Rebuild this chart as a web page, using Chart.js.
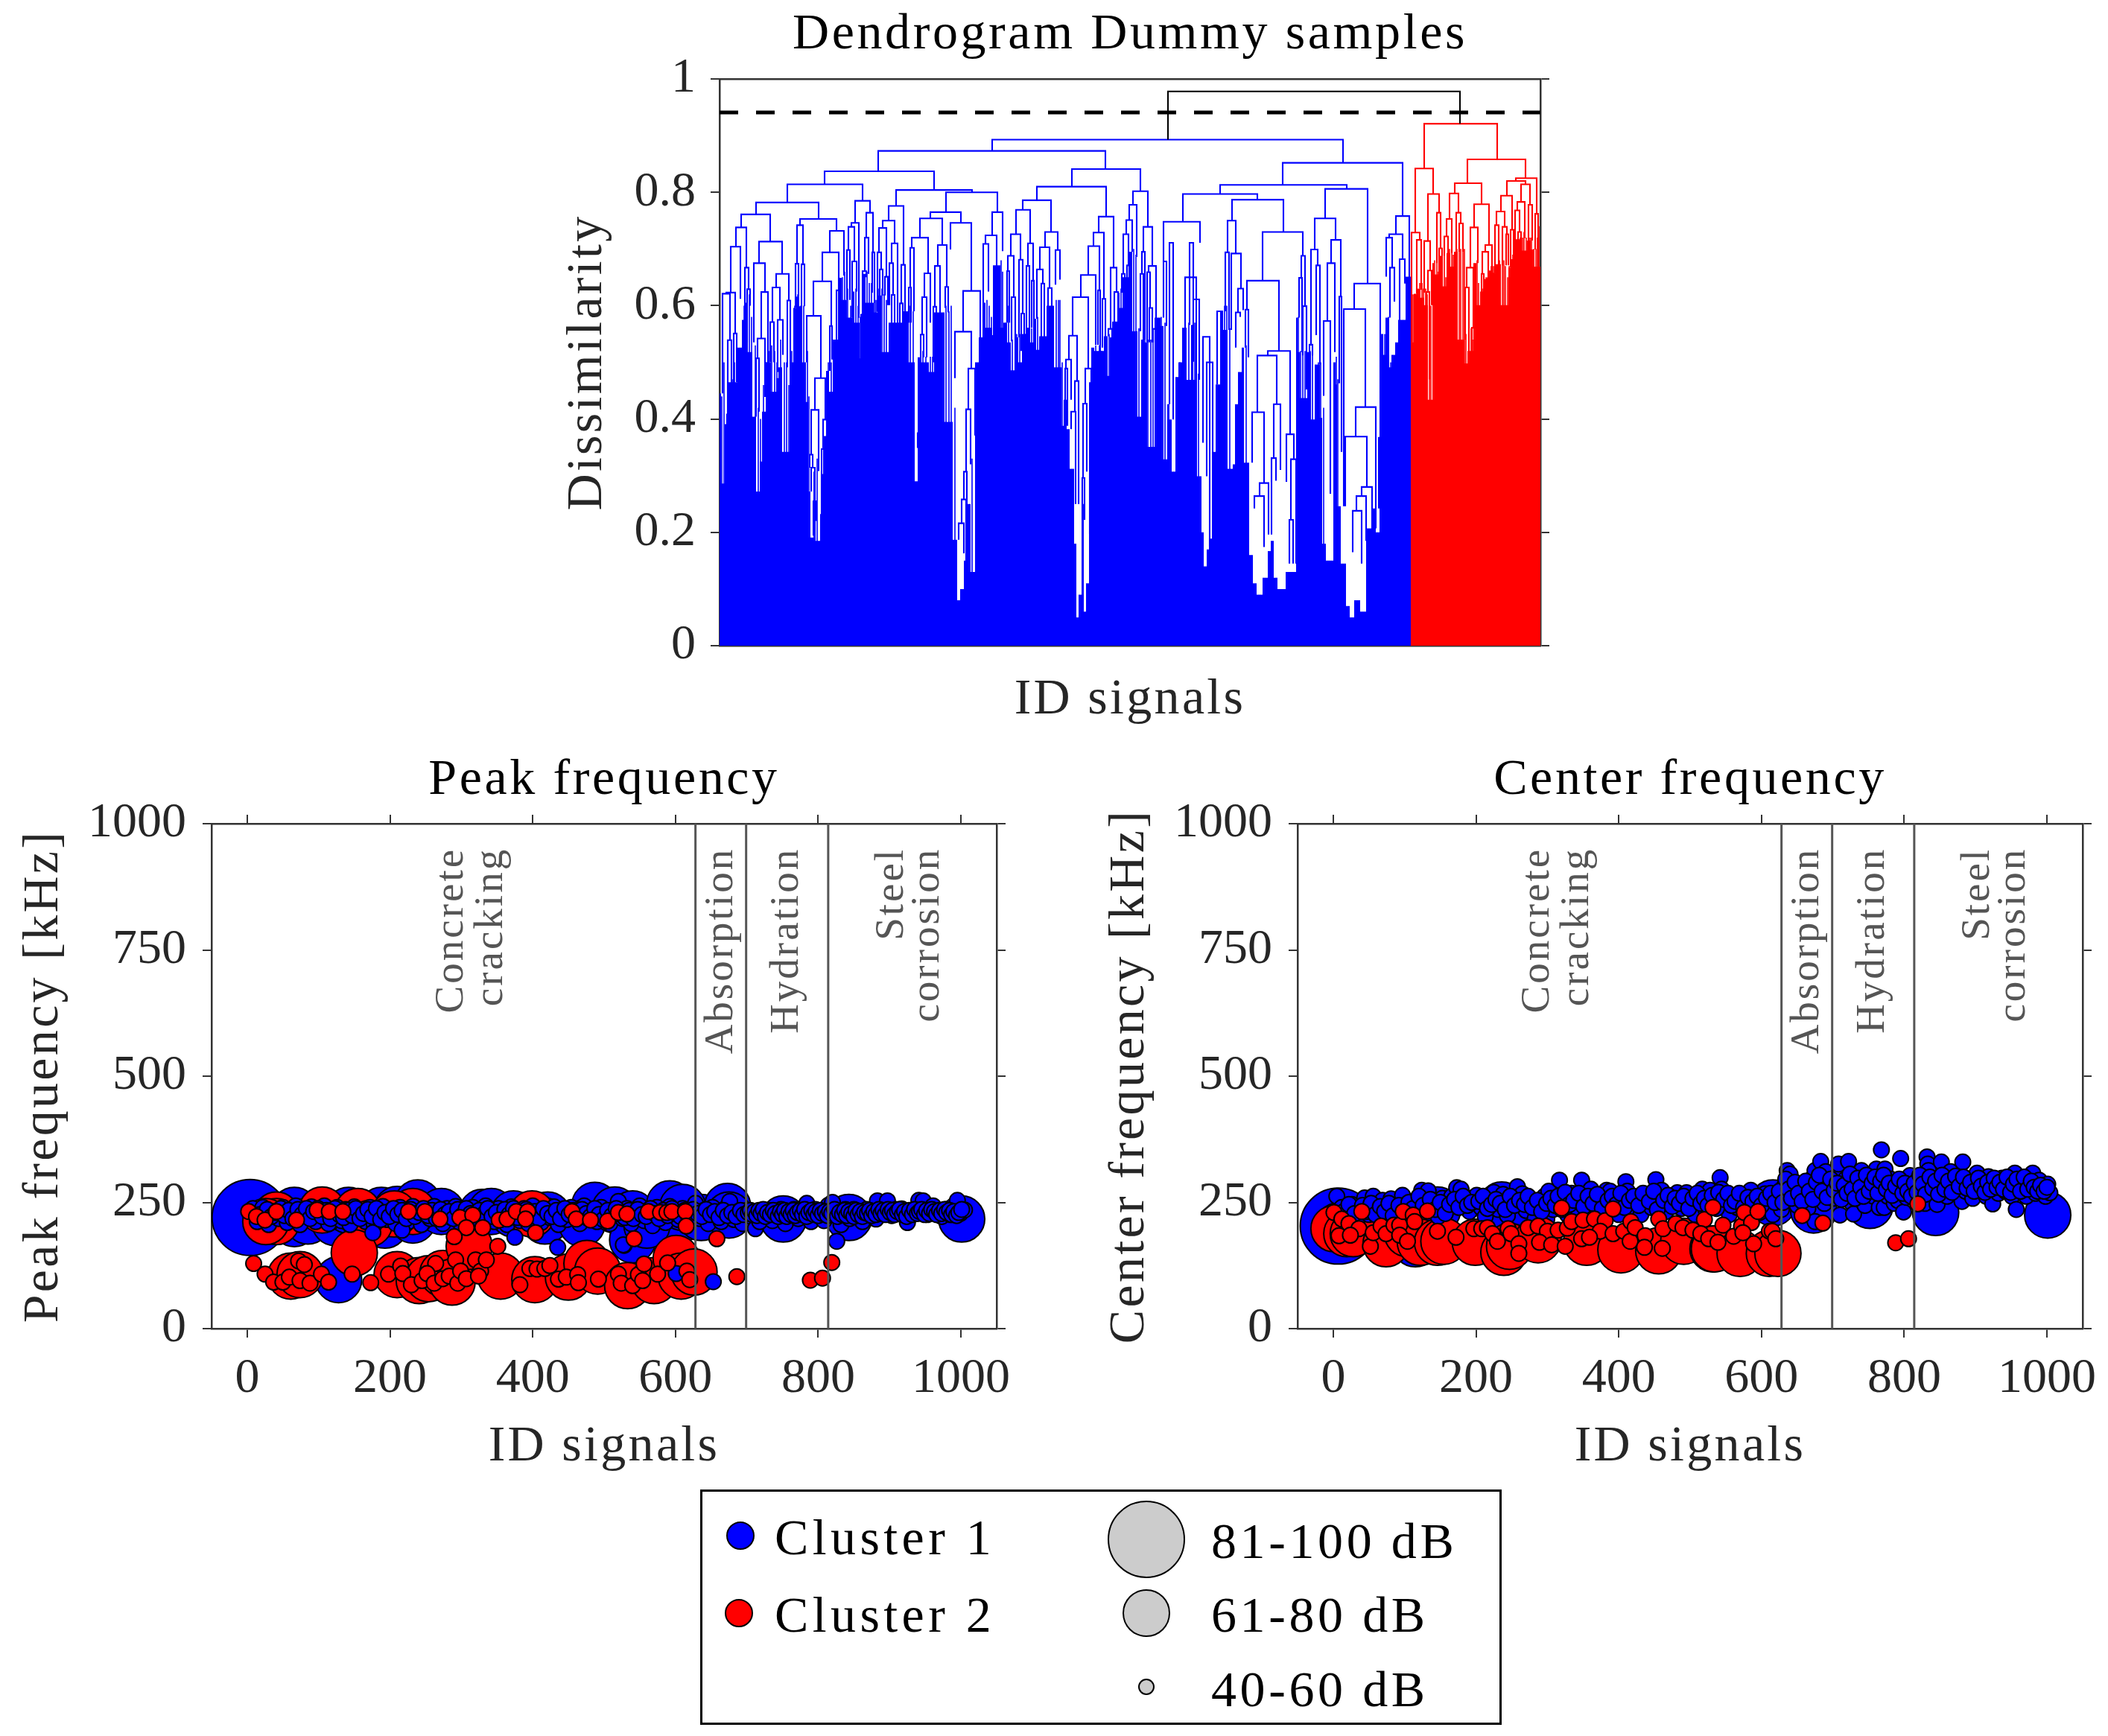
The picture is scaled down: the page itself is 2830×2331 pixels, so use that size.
<!DOCTYPE html>
<html>
<head>
<meta charset="utf-8">
<title>Dendrogram and frequency plots</title>
<script src="https://cdn.jsdelivr.net/npm/chart.js@4"></script>
<style>
  html, body { margin: 0; background: #fff; }
  body { position: relative; width: 2830px; height: 2331px; overflow: hidden; font-family: 'Liberation Serif', serif; }
  canvas { position: absolute; }
  #legend { position: absolute; left: 940px; top: 2000px; width: 1070px; height: 310px; border: 3px solid #000; background: #fff; }
  .lg-text { position: absolute; font-size: 68px; line-height: 68px; letter-spacing: 4.6px; color: #000; white-space: nowrap; }
  .lg-dot { position: absolute; border-radius: 50%; border: 2px solid #000; box-sizing: border-box; }
</style>
</head>
<body>
<canvas id="dendro" width="1408" height="1000" style="left:700px;top:0"></canvas>
<canvas id="peak" width="1418" height="1000" style="left:0;top:1000px"></canvas>
<canvas id="center" width="1418" height="1000" style="left:1458px;top:1000px"></canvas>
<div id="legend"></div>
<script>
// ---- dendrogram values: leaf position, dissimilarity ----
const dissimilarityTicks = [0, 0.2, 0.4, 0.6, 0.8, 1];
const cutoffLevel = [0.941];
const leafRange = [0, 1102];

// [leftLeaf, rightLeaf, mergeHeight, leftChildHeight, rightChildHeight]
const rootLink = [[602, 994, 0.978, 0.893, 0.921]];

const blueLinks = [
  [366,837,.893,.873,.852],[213,518,.873,.837,.841],[756,917,.852,.813,.758],[141,288,.837,.814,.804],
  [473,565,.841,.810,.802],[91,192,.814,.782,.785],[237,339,.804,.776,.800],[426,519,.810,.786,.757],
  [555,575,.802,.778,.739],[672,842,.813,.797,.806],[622,722,.797,.748,.787],[688,757,.787,.750,.730],
  [304,373,.800,.765,.765],[813,870,.806,.754,.639],[908,926,.758,.726,.650],
  [49,133,.782,.761,.753],[29,68,.761,.738,.713],[108,157,.753,.742,.732],[22,36,.738,.704,.667],
  [53,84,.713,.675,.656],[15,28,.704,.623,.612],[34,39,.667,.575,.629],[37,41,.629,.535,.600],
  [46,61,.675,.535,.624],[56,65,.624,.542,.439],[51,61,.542,.507,.439],[49,53,.507,.404,.413],
  [76,93,.656,.632,.609],[71,81,.632,.571,.575],[68,73,.571,.500,.500],[78,85,.575,.483,.513],
  [91,95,.609,.491,.496],[9,21,.623,.621,.551],[4,14,.621,.445,.539],[11,16,.539,.408,.450],
  [19,23,.551,.391,.465],[10,12,.408,.286,.286],[104,112,.742,.674,.673],[102,106,.674,.596,.616],
  [110,114,.673,.575,.599],[148,167,.732,.694,.653],[138,160,.694,.643,.627],[126,150,.643,.582,.564],
  [117,136,.582,.500,.472],[128,142,.472,.416,.399],[123,133,.416,.337,.308],[121,125,.337,.314,.314],
  [123,128,.314,.272,.255],[126,130,.255,.194,.220],[139,144,.399,.347,.303],[137,142,.347,.231,.303],
  [136,139,.231,.141,.187],[157,162,.627,.533,.448],[155,158,.533,.448,.452],[148,151,.564,.485,.505],
  [182,202,.785,.746,.764],[177,187,.746,.740,.579],[173,181,.739,.698,.678],[171,175,.698,.610,.610],
  [178,184,.678,.579,.625],[197,206,.764,.720,.694],[195,200,.720,.661,.656],[192,197,.661,.584,.650],
  [190,194,.584,.472,.507],[205,208,.694,.623,.605],[227,247,.776,.750,.672],[219,235,.750,.737,.710],
  [214,224,.737,.694,.651],[212,217,.694,.589,.664],[215,219,.664,.590,.618],[222,226,.651,.618,.601],
  [231,239,.710,.675,.564],[228,233,.675,.601,.619],[231,235,.619,.491,.518],[237,241,.564,.491,.491],
  [244,249,.672,.604,.570],[242,246,.604,.518,.518],[283,324,.765,.754,.746],[269,299,.754,.720,.707],
  [258,280,.720,.702,.657],[256,261,.702,.632,.590],[254,257,.632,.570,.570],[275,283,.657,.615,.570],
  [272,278,.615,.549,.509],[270,274,.549,.485,.509],[268,271,.485,.375,.434],[266,269,.375,.349,.349],
  [293,305,.707,.670,.633],[289,296,.670,.598,.568],[287,291,.598,.500,.570],[303,307,.633,.596,.588],
  [310,338,.746,.699,.626],[327,350,.626,.554,.500],[316,338,.554,.472,.489],[334,343,.489,.417,.371],
  [331,337,.417,.307,.320],[328,332,.307,.258,.185],[325,331,.258,.216,.141],[321,328,.216,.187,.163],
  [357,372,.724,.709,.649],[354,361,.709,.570,.625],[366,380,.765,.724,.696],
  [407,445,.786,.769,.730],[398,417,.769,.726,.710],[391,404,.726,.688,.681],[387,395,.688,.661,.615],
  [386,389,.661,.570,.570],[392,397,.615,.537,.485],[402,407,.681,.544,.586],[405,409,.586,.520,.498],
  [414,421,.710,.670,.644],[412,416,.670,.548,.550],[419,422,.644,.561,.535],[437,454,.730,.703,.698],
  [430,443,.703,.664,.631],[426,434,.664,.577,.639],[432,436,.639,.524,.524],[441,446,.631,.548,.548],
  [451,457,.698,.637,.646],[509,529,.757,.729,.667],[502,516,.729,.705,.612],[495,510,.705,.654,.627],
  [485,505,.654,.615,.531],[474,495,.615,.547,.489],[469,480,.547,.505,.467],[465,472,.505,.489,.434],
  [464,467,.489,.388,.388],[477,482,.467,.413,.250],[472,478,.413,.382,.250],[491,499,.489,.427,.303],
  [488,493,.427,.296,.307],[487,490,.296,.222,.222],[497,501,.303,.197,.197],[508,511,.627,.531,.518],
  [514,518,.612,.526,.520],[525,533,.667,.559,.624],[522,527,.559,.546,.476],[530,535,.624,.544,.572],
  [550,560,.778,.751,.686],[546,554,.751,.726,.695],[542,549,.726,.656,.671],[540,544,.656,.623,.596],
  [547,550,.671,.596,.600],[569,581,.739,.695,.670],[567,571,.695,.656,.540],[565,569,.656,.555,.531],
  [576,586,.670,.659,.559],[574,578,.659,.535,.596],[577,581,.596,.535,.535],[582,588,.559,.535,.473],
  [586,590,.473,.351,.351],[596,645,.748,.678,.711],[682,693,.750,.694,.692],[679,684,.694,.590,.557],
  [687,700,.692,.557,.630],[696,703,.630,.588,.592],[693,699,.588,.526,.580],[706,710,.593,.526,.509],
  [708,751,.644,.593,.520],[729,783,.730,.644,.688],[736,766,.520,.512,.373],[722,748,.512,.412,.426],
  [715,731,.412,.323,.287],[725,737,.287,.264,.196],[718,731,.264,.242,.174],[744,753,.426,.331,.310],
  [741,747,.331,.196,.291],[761,771,.373,.289,.329],[767,774,.329,.222,.145],[765,770,.222,.145,.145],
  [781,786,.688,.649,.599],[778,782,.649,.579,.518],[783,788,.599,.512,.452],[799,827,.754,.699,.716],
  [794,803,.699,.531,.671],[801,806,.671,.548,.496],[792,796,.531,.437,.512],[821,834,.716,.675,.616],
  [816,826,.675,.573,.518],[811,820,.573,.441,.268],[832,835,.616,.463,.342],[852,887,.639,.594,.367],
  [838,867,.594,.246,.421],[854,881,.421,.369,.207],[840,869,.369,.246,.280],[862,876,.280,.264,.190],
  [855,868,.264,.238,.185],[850,862,.238,.165,.145],[885,889,.367,.242,.207],[895,903,.720,.651,.667],
  [899,917,.726,.720,.682],[900,906,.667,.579,.607],[913,920,.682,.561,.639],
  [596,600,.678,.579,.564],[604,609,.711,.426,.399],[631,636,.711,.566,.501],[625,640,.650,.500,.469],
  [636,644,.611,.566,.469],[654,662,.500,.299,.174],[649,658,.545,.358,.174],[668,675,.590,.461,.358]
];

const redLinks = [
  [946,1044,.921,.842,.858],[934,958,.842,.729,.798],[1004,1082,.858,.816,.825],[987,1023,.816,.799,.779],
  [1069,1097,.825,.820,.762],[1057,1082,.820,.794,.814],[951,966,.797,.715,.764],[929,940,.729,.535,.716],
  [936,942,.716,.621,.628],[934,937,.552,.380,.480],[946,954,.714,.623,.662],[949,953,.624,.526,.470],
  [951,956,.662,.624,.601],[963,968,.764,.675,.701],[966,970,.701,.575,.688],[980,992,.798,.753,.764],
  [976,983,.753,.722,.693],[973,978,.722,.688,.634],[989,995,.764,.695,.745],[993,998,.745,.695,.695],
  [1013,1033,.779,.738,.707],[1008,1018,.738,.667,.675],[1003,1012,.667,.632,.561],[1001,1006,.632,.540,.500],
  [1010,1013,.561,.498,.498],[1028,1037,.707,.695,.653],[1024,1032,.695,.656,.647],[1023,1026,.656,.601,.601],
  [1030,1033,.647,.625,.600],[1049,1064,.794,.766,.734],[1043,1054,.766,.742,.739],[1041,1046,.742,.658,.658],
  [1051,1057,.739,.671,.726],[1056,1059,.726,.671,.671],[1062,1066,.734,.667,.682],[1071,1081,.783,.768,.719],
  [1068,1074,.768,.675,.730],[1072,1076,.730,.680,.680],[1076,1088,.814,.783,.778],[1086,1091,.778,.697,.715],
  [1095,1099,.762,.699,.669]
];

// top of the solid part of the tree: [leaf, height], read left to right
const blueSolidTop = [
  [0,.229],[2,.445],[7,.286],[12,.391],[24,.465],[30,.526],[34,.575],[38,.605],[44,.518],[49,.404],[54,.272],
  [57,.325],[62,.413],[69,.500],[76,.448],[79,.472],[84,.491],[94,.342],[99,.500],[103,.596],[107,.616],[111,.599],
  [116,.500],[119,.430],[122,.272],[126,.191],[129,.307],[136,.185],[139,.303],[143,.370],[147,.485],[152,.448],
  [159,.540],[164,.649],[171,.610],[178,.579],[181,.625],[188,.570],[191,.507],[196,.656],[207,.605],[212,.588],
  [217,.618],[227,.518],[247,.570],[254,.590],[262,.500],[266,.290],[269,.509],[281,.500],[288,.483],[302,.588],[313,.395],
  [319,.187],[323,.080],[328,.100],[332,.150],[337,.250],[343,.130],[348,.500],[353,.544],[357,.605],[366,.561],
  [367,.548],[377,.671],[381,.561],[386,.570],[391,.535],[396,.486],[401,.544],[406,.500],[412,.550],[417,.561],
  [421,.535],[425,.577],[429,.522],[439,.546],[449,.600],[459,.491],[462,.388],[466,.434],[470,.382],[476,.312],
  [479,.180],[482,.050],[486,.090],[489,.250],[492,.060],[496,.110],[499,.465],[503,.526],[516,.520],[521,.546],
  [524,.476],[527,.544],[534,.572],[537,.623],[541,.596],[549,.650],[554,.695],[561,.555],[566,.404],[569,.540],
  [574,.535],[584,.351],[592,.579],[596,.564],[601,.329],[604,.426],[607,.399],[612,.307],[616,.474],[621,.500],
  [627,.561],[633,.469],[636,.566],[641,.469],[647,.299],[650,.200],[654,.140],[657,.170],[662,.189],[666,.342],
  [672,.461],[676,.590],[682,.557],[689,.312],[692,.320],[696,.426],[701,.483],[704,.526],[711,.323],[716,.160],
  [721,.110],[729,.090],[736,.120],[740,.167],[744,.185],[749,.120],[760,.100],[774,.130],[776,.579],[779,.518],
  [789,.437],[794,.518],[799,.399],[806,.496],[809,.402],[814,.180],[824,.150],[827,.500],[829,.461],[834,.246],
  [841,.145],[846,.070],[852,.050],[860,.080],[868,.060],[877,.207],[881,.242],[886,.200],[891,.550],[894,.513],
  [899,.579],[902,.491],[907,.513],[911,.535],[921,.575],[924,.651],[928,.651]
];

const redSolidTop = [
  [928,.638],[932,.535],[936,.621],[941,.629],[946,.614],[951,.601],[957,.434],[959,.675],[966,.655],[971,.688],
  [976,.634],[981,.693],[986,.669],[991,.695],[1000,.540],[1004,.498],[1012,.520],[1016,.675],[1021,.601],[1027,.625],
  [1032,.647],[1037,.662],[1042,.658],[1049,.673],[1059,.601],[1062,.667],[1067,.682],[1077,.717],[1084,.697],
  [1089,.715],[1094,.699],[1097,.669],[1102,.669]
];

// the thin uprights above the solid part: [leaf, height]
const blueStems = [
  [3,.44],[6,.50],[13,.44],[17,.47],[20,.50],[26,.52],[31,.56],[33,.60],[40,.62],[43,.58],[48,.53],[52,.42],[55,.40],
  [59,.46],[63,.50],[66,.52],[70,.53],[74,.52],[77,.50],[82,.54],[87,.50],[90,.50],[93,.46],[97,.52],[101,.60],[105,.62],
  [109,.60],[113,.60],[118,.52],[120,.44],[131,.33],[146,.50],[150,.50],[153,.49],[156,.51],[161,.55],[165,.65],[168,.66],
  [172,.63],[176,.60],[179,.60],[183,.63],[186,.60],[189,.58],[193,.55],[198,.66],[201,.64],[204,.64],[208,.62],[210,.61],
  [214,.63],[218,.63],[221,.62],[224,.61],[229,.55],[233,.53],[236,.52],[240,.53],[244,.55],[249,.58],[252,.57],[256,.60],
  [260,.59],[273,.52],[277,.51],[283,.51],[286,.51],[291,.50],[295,.50],[299,.52],[304,.60],[308,.59],[311,.60],[316,.42],
  [339,.33],[350,.51],[355,.55],[359,.61],[362,.60],[365,.58],[370,.56],[374,.56],[378,.68],[380,.66],[384,.57],[388,.60],
  [393,.54],[399,.55],[403,.55],[408,.52],[411,.55],[415,.56],[419,.56],[423,.56],[427,.58],[431,.53],[435,.53],[441,.55],
  [444,.55],[448,.55],[452,.61],[455,.61],[457,.61],[460,.50],[505,.53],[510,.53],[513,.52],[518,.53],[523,.55],[530,.57],
  [535,.58],[539,.63],[543,.60],[547,.62],[551,.66],[553,.68],[556,.70],[559,.69],[563,.56],[568,.54],[571,.55],[575,.54],
  [579,.54],[582,.54],[593,.58],[598,.57],[618,.50],[623,.51],[626,.52],[630,.57],[634,.50],[638,.57],[643,.48],[675,.47],
  [678,.60],[681,.60],[685,.56],[703,.49],[707,.53],[777,.58],[780,.52],[783,.52],[786,.52],[790,.47],[793,.52],[796,.52],
  [800,.42],[804,.50],[807,.50],[811,.42],[828,.51],[830,.47],[893,.55],[896,.52],[898,.58],[901,.50],[904,.50],[908,.52],
  [912,.54],[915,.54],[918,.55],[922,.58],[926,.66]
];
const redStems = [
  [929,.66],[931,.62],[933,.56],[935,.55],[938,.63],[940,.64],[943,.64],[945,.63],[948,.63],[950,.62],[953,.62],[955,.60],
  [958,.50],[960,.68],[963,.68],[965,.66],[968,.68],[970,.69],[973,.69],[975,.65],[978,.65],[980,.70],[983,.70],[985,.69],
  [988,.68],[990,.70],[993,.70],[995,.70],[998,.70],[1000,.70],[1002,.55],[1006,.52],[1009,.56],[1011,.54],[1014,.60],
  [1017,.68],[1019,.64],[1022,.62],[1025,.63],[1029,.65],[1031,.65],[1034,.66],[1036,.67],[1039,.67],[1041,.66],[1044,.67],
  [1047,.68],[1051,.68],[1053,.68],[1055,.67],[1058,.65],[1060,.67],[1063,.68],[1065,.69],[1069,.69],[1072,.70],[1075,.72],
  [1078,.72],[1080,.73],[1083,.72],[1085,.71],[1088,.72],[1090,.72],[1093,.70],[1096,.70],[1098,.72],[1100,.74]
];

// ---- shared values of the two frequency plots ----
const signalTicks = [0, 200, 400, 600, 800, 1000];
const frequencyTicks = [0, 250, 500, 750, 1000];
const signalRange = [-50, 1050];
const stageLimits = [628, 699, 814];
const stageLabels = ['Concrete', 'cracking', 'Absorption', 'Hydration', 'Steel', 'corrosion'];
const stageLabelSignal = [302, 357, 680, 771, 918, 969];
const stageLabelTop = 953;

// ---- peak frequency: [ID signal, kHz] ----
const peakBlueLoud = [[4,220]];
const peakBlueMedium = [
  [66,234],[66,208],[85,213],[123,210],[128,97],[142,234],[188,234],[210,236],[193,205],[239,249],[232,215],[272,232],
  [329,230],[342,232],[373,227],[421,225],[417,213],[487,244],[469,208],[515,235],[540,227],[540,176],[592,247],
  [608,217],[636,220],[673,242],[751,217],[843,220],[1001,217],[560,205],[610,240],[675,225]
];
const peakRedMedium = [
  [41,225],[41,212],[26,212],[105,235],[155,232],[232,232],[206,227],[171,208],[399,227],[150,150],[61,104],[74,107],
  [210,107],[241,95],[254,99],[274,109],[287,92],[311,163],[355,104],[403,97],[450,102],[476,129],[491,114],[533,85],
  [570,95],[601,139],[608,104],[626,112]
];
const peakBlueQuiet = [
  [8,238],[14,212],[22,240],[30,206],[36,232],[44,218],[50,240],[56,210],[62,228],[68,243],[74,206],[80,234],[86,222],
  [90,241],[96,212],[102,230],[108,243],[114,208],[120,226],[126,240],[132,214],[138,236],[144,206],[150,241],[155,222],
  [160,232],[166,212],[172,240],[178,206],[184,226],[190,242],[196,216],[202,234],[208,208],[214,240],[220,222],
  [226,212],[232,242],[238,228],[244,206],[250,236],[256,218],[262,242],[268,226],[274,208],[280,238],[286,220],
  [292,242],[298,210],[304,230],[310,214],[316,240],[322,224],[328,206],[334,243],[340,232],[346,212],[352,238],
  [358,222],[364,206],[370,241],[376,228],[382,214],[388,238],[394,208],[400,243],[406,224],[412,210],[418,236],
  [424,220],[430,241],[436,206],[442,232],[448,216],[454,240],[460,226],[466,208],[472,243],[478,218],[484,234],
  [490,212],[496,240],[502,226],[508,208],[514,236],[520,252],[526,218],[532,238],[538,208],[544,228],[550,243],
  [556,214],[562,234],[568,204],[574,240],[580,222],[586,210],[592,242],[598,230],[604,216],[610,238],[616,206],
  [622,226],[628,248],[634,218],[640,234],[646,208],[652,240],[658,224],[664,212],[670,238],[676,252],[682,216],
  [688,232],[694,208],[700,234],[706,222],[712,198],[718,212],[724,230],[730,234],[736,214],[742,224],[748,236],
  [754,208],[760,228],[766,236],[772,218],[778,232],[784,248],[790,212],[796,236],[802,222],[808,214],[814,244],
  [820,250],[826,226],[832,206],[838,236],[844,218],[850,236],[856,228],[862,212],[868,236],[874,224],[881,217],
  [883,253],[889,232],[897,253],[903,224],[909,236],[917,237],[925,210],[931,228],[941,254],[947,253],[953,226],
  [961,243],[967,232],[973,222],[979,236],[985,226],[991,236],[995,254],[999,228],[1005,235],
  [176,190],[217,195],[375,181],[435,161],[528,165],[601,109],[653,93],[826,173],[527,166]
];
// the tight middle of the band, where the outlines run together
const peakBlueBand = [
  [18,226],[24,218],[28,236],[34,222],[40,230],[47,238],[52,224],[58,234],[64,218],[71,236],[77,226],[83,238],[88,218],
  [93,232],[99,238],[105,222],[111,234],[117,218],[123,238],[129,226],[135,220],[141,234],[147,224],[152,238],[158,218],
  [163,228],[169,236],[175,222],[181,238],[187,216],[193,230],[199,222],[205,238],[211,226],[217,234],[223,218],[229,236],
  [235,222],[241,230],[247,238],[253,224],[259,234],[265,218],[271,236],[277,226],[283,232],[289,218],[295,236],[301,224],
  [307,238],[313,228],[319,220],[325,234],[331,226],[337,238],[343,222],[349,230],[355,216],[361,236],[367,226],[373,238],
  [379,220],[385,230],[391,236],[397,224],[403,232],[409,218],[415,238],[421,228],[427,222],[433,234],[439,218],[445,238],
  [451,226],[457,234],[463,220],[469,236],[475,228],[481,222],[487,238],[493,226],[499,216],[505,234],[511,224],[517,238],
  [523,228],[529,220],[535,234],[541,218],[547,236],[553,226],[559,222],[565,238],[571,228],[577,218],[583,234],[589,224],
  [595,238],[601,228],[607,222],[613,234],[619,218],[625,236],[631,228],[637,222],[643,236],[649,226],[655,232],[661,220],
  [667,234],[673,224],[679,230],[685,222],[691,234],[696,226],[702,230],[705,234],[708,226],[711,232],[714,224],[717,234],
  [720,228],[723,236],[726,222],[729,230],[733,226],[737,234],[740,228],[744,222],[747,232],[750,226],[753,234],[756,222],
  [759,232],[762,226],[765,234],[768,224],[771,230],[775,234],[778,226],[781,236],[784,222],[787,230],[791,234],[794,226],
  [797,232],[800,224],[803,234],[806,228],[810,232],[813,224],[816,232],[819,228],[823,236],[827,222],[830,230],[834,226],
  [837,234],[840,224],[843,232],[847,228],[850,222],[853,234],[856,226],[859,232],[862,222],[865,230],[869,228],[872,234],
  [875,224],[878,232],[881,226],[885,236],[888,228],[891,234],[894,226],[898,236],[901,230],[904,234],[907,226],[911,232],
  [914,236],[918,226],[921,232],[924,222],[928,234],[932,226],[935,236],[939,228],[942,232],[945,236],[949,226],[952,234],
  [956,228],[959,236],[963,232],[966,226],[970,234],[973,228],[977,236],[980,230],[984,234],[987,226],[990,232],[994,224],
  [997,230],[1001,236]
];
const peakRedQuiet = [
  [2,232],[13,222],[25,215],[41,232],[69,215],[98,235],[115,232],[134,232],[226,232],[249,232],[270,217],[298,220],
  [316,225],[307,200],[330,200],[290,182],[351,163],[353,215],[364,217],[377,232],[393,232],[390,217],[404,190],
  [455,232],[461,217],[481,215],[505,213],[520,230],[532,227],[542,178],[562,232],[579,230],[588,230],[595,232],
  [614,232],[615,203],[658,178],[9,129],[25,108],[37,92],[50,92],[59,102],[72,134],[80,127],[74,95],[88,90],[104,108],
  [114,92],[147,108],[173,91],[198,108],[215,124],[218,109],[230,87],[245,95],[264,129],[252,109],[262,90],[274,99],
  [283,104],[292,136],[295,90],[299,114],[307,99],[320,136],[327,114],[324,104],[335,136],[382,87],[396,119],[406,118],
  [417,119],[424,125],[436,98],[447,102],[463,107],[464,91],[492,98],[520,108],[524,90],[540,85],[548,107],[554,95],
  [556,128],[575,108],[589,130],[616,114],[620,97],[686,103],[789,96],[806,100],[819,131]
];

// ---- center frequency: [ID signal, kHz] ----
const centerBlueLoud = [[7,203]];
const centerBlueMedium = [[7,203],[115,168],[146,235],[236,245],[278,222],[616,249],[673,235],[752,244],[844,230],[1001,225]];
const centerRedMedium = [
  [1,198],[19,188],[28,188],[74,168],[104,188],[122,171],[146,171],[155,173],[199,171],[239,151],[247,163],[287,176],
  [355,171],[403,156],[456,154],[491,173],[532,158],[534,158],[570,149],[611,149],[623,149]
];
const centerBlueQuiet = [
  [5,262],[12,240],[18,222],[26,246],[33,214],[38,236],[44,259],[50,226],[56,262],[62,240],[69,254],[75,218],[81,257],
  [88,236],[97,264],[103,246],[109,226],[116,252],[124,274],[128,238],[133,273],[140,248],[147,222],[153,258],[160,238],
  [166,262],[173,279],[179,276],[185,250],[191,232],[197,260],[201,264],[207,240],[213,222],[219,254],[225,270],[231,236],
  [238,266],[244,224],[251,248],[258,281],[265,267],[270,234],[276,256],[283,218],[289,244],[296,262],[302,272],[308,236],
  [317,294],[322,252],[328,226],[334,268],[341,240],[348,294],[354,258],[361,276],[367,232],[374,256],[383,274],[388,272],
  [394,240],[400,226],[405,258],[410,291],[412,272],[418,236],[424,250],[431,226],[440,264],[446,240],[452,295],[456,252],
  [460,274],[466,232],[472,258],[482,269],[488,238],[495,269],[501,246],[507,226],[512,256],[517,276],[522,236],[528,274],
  [534,250],[542,299],[544,276],[550,242],[555,226],[560,262],[566,240],[572,256],[578,228],[585,274],[591,246],[597,230],
  [605,267],[610,248],[616,226],[622,262],[628,236],[632,282],[636,313],[640,306],[645,266],[650,244],[655,286],[660,262],
  [665,238],[670,296],[675,313],[675,212],[680,268],[683,331],[688,248],[690,311],[695,280],[700,258],[704,300],[708,326],
  [710,225],[715,270],[718,296],[722,331],[726,250],[729,227],[733,290],[737,266],[740,313],[745,244],[749,286],[753,304],
  [757,262],[761,316],[765,240],[768,354],[770,284],[772,240],[773,316],[777,262],[781,296],[786,248],[791,254],[795,337],
  [797,276],[799,231],[803,260],[808,303],[812,280],[816,262],[820,296],[825,276],[829,248],[832,340],[833,326],[834,313],
  [838,290],[842,266],[846,246],[852,330],[855,284],[860,262],[865,311],[870,280],[875,296],[881,252],[882,330],[886,272],
  [891,296],[896,258],[902,308],[906,276],[911,296],[915,262],[918,301],[924,247],[927,284],[932,268],[937,298],[942,272],
  [947,288],[951,262],[955,308],[957,236],[961,276],[966,292],[971,262],[975,286],[980,308],[984,268],[989,294],[994,276],
  [998,262],[1001,286],[1004,269]
];
const centerBlueBand = [
  [15,232],[22,246],[30,228],[41,244],[47,232],[53,248],[59,226],[66,242],[72,232],[78,248],[84,224],[92,244],[100,230],
  [106,250],[112,238],[120,262],[126,244],[136,256],[143,236],[150,250],[157,228],[163,246],[170,256],[176,240],[182,262],
  [188,244],[194,250],[204,252],[210,262],[216,238],[222,246],[228,256],[234,248],[241,236],[248,262],[254,244],[261,254],
  [268,246],[273,262],[279,240],[286,254],[292,232],[299,248],[305,258],[311,244],[315,262],[320,236],[325,270],[331,246],
  [337,254],[344,268],[351,242],[357,262],[364,248],[370,266],[377,238],[385,254],[391,262],[397,246],[403,268],[408,240],
  [415,254],[421,262],[428,244],[434,268],[443,252],[449,272],[454,236],[463,254],[469,264],[475,242],[479,258],[485,248],
  [491,262],[498,238],[504,258],[510,268],[515,248],[520,258],[525,244],[531,264],[537,238],[540,270],[547,256],[553,268],
  [558,244],[563,252],[569,268],[575,240],[581,260],[588,252],[594,262],[600,244],[607,258],[613,268],[619,250],[625,272],
  [630,250],[634,296],[638,276],[642,258],[647,290],[652,268],[657,252],[662,292],[667,272],[672,256],[677,290],[681,304],
  [685,272],[692,260],[697,296],[702,274],[706,288],[712,256],[716,284],[720,268],[724,306],[727,276],[731,258],[735,298],
  [739,280],[743,262],[747,304],[751,272],[755,288],[759,300],[763,268],[767,292],[771,304],[775,276],[779,288],[783,264],
  [788,282],[793,296],[798,268],[801,288],[805,272],[810,262],[814,288],[818,270],[822,304],[826,286],[830,266],[836,300],
  [840,278],[844,292],[848,266],[853,304],[857,276],[862,292],[867,270],[872,302],[877,282],[883,300],[888,278],[893,290],
  [898,272],[904,298],[908,282],[913,270],[917,290],[921,276],[926,298],[930,280],[934,290],[939,276],[944,300],[949,270],
  [953,286],[958,296],[963,272],[968,300],[973,276],[978,292],[982,280],[987,272],[991,284],[996,272],[1000,280]
];
const centerRedQuiet = [
  [1,230],[12,217],[22,208],[40,232],[36,198],[8,184],[24,185],[52,163],[56,190],[67,203],[74,188],[85,205],[93,205],
  [93,185],[104,173],[98,232],[112,225],[114,212],[132,233],[146,193],[172,181],[197,198],[208,198],[216,200],[223,188],
  [230,173],[245,198],[249,188],[260,168],[260,149],[273,200],[287,203],[300,193],[289,171],[306,166],[315,195],[325,163],
  [320,239],[328,199],[334,212],[350,215],[366,217],[381,214],[392,237],[374,193],[392,188],[348,178],[359,181],[407,193],
  [416,173],[417,212],[423,200],[437,184],[436,161],[456,217],[462,198],[461,159],[480,208],[490,200],[504,195],[520,216],
  [515,188],[526,178],[539,171],[532,240],[546,205],[561,183],[572,203],[576,230],[586,210],[589,168],[595,232],[611,193],
  [615,193],[620,178],[574,190],[657,224],[686,209],[819,247],[788,170],[806,178]
];

// ---- styling ----
const SERIF = "'Liberation Serif', serif";
const AXIS_COLOR = '#333333';
const TEXT_COLOR = '#262626';
const BLUE = '#0000ff';
const RED = '#ff0000';
const LOUD_R = 51;
const MEDIUM_R = 31;
const QUIET_R = 10.5;

const fixTicks = (values) => (scale) => { scale.ticks = values.map(value => ({ value })); };

function axisBase(extra) {
  return Object.assign({
    type: 'linear',
    border: { display: true, color: AXIS_COLOR, width: 2.5 },
    grid: { drawOnChartArea: false, drawTicks: true, tickLength: 12, color: AXIS_COLOR, lineWidth: 2 },
  }, extra);
}

function tickFont() {
  return { family: SERIF, size: 66, lineHeight: 1 };
}

function axisTitle(text, padding) {
  return { display: true, text, color: TEXT_COLOR, padding, font: { family: SERIF, size: 68, lineHeight: 1 } };
}

// Chart.js has no letter spacing option, and Liberation Serif is narrower than the reference type
const spacedText = {
  id: 'spacedText',
  beforeDraw(chart) {
    if (chart.$spaced) return;
    chart.$spaced = true;
    const ctx = chart.ctx;
    const titleDraw = chart.titleBlock.draw;
    chart.titleBlock.draw = function () {
      ctx.letterSpacing = '3.6px';
      titleDraw.call(this);
      ctx.letterSpacing = '0px';
    };
    for (const id of ['x', 'y']) {
      const scale = chart.scales[id];
      const drawTitle = scale.drawTitle;
      scale.drawTitle = function () {
        // long labels must not get squeezed to the axis length, so stretch along the axis only
        const { top, bottom, left, right } = this;
        if (id === 'y') { this.top -= 100; this.bottom += 100; } else { this.left -= 100; this.right += 100; }
        ctx.letterSpacing = '3.3px';
        drawTitle.call(this);
        ctx.letterSpacing = '0px';
        this.top = top; this.bottom = bottom; this.left = left; this.right = right;
      };
    }
  },
};

const stageText = {
  id: 'stageText',
  afterDatasetsDraw(chart) {
    const { ctx, scales } = chart;
    ctx.save();
    ctx.font = '55px ' + SERIF;
    ctx.fillStyle = '#555555';
    ctx.textAlign = 'right';
    ctx.textBaseline = 'alphabetic';
    ctx.letterSpacing = '3px';
    stageLabels.forEach((label, i) => {
      ctx.save();
      ctx.translate(scales.x.getPixelForValue(stageLabelSignal[i]), scales.y.getPixelForValue(stageLabelTop));
      ctx.rotate(-Math.PI / 2);
      ctx.fillText(label, 0, 0);
      ctx.restore();
    });
    ctx.restore();
  },
};

function linkPoints(links) {
  const pts = [];
  for (const [xl, xr, top, bl, br] of links) {
    pts.push({ x: xl, y: bl }, { x: xl, y: top }, { x: xr, y: top }, { x: xr, y: br }, { x: NaN, y: NaN });
  }
  return pts;
}

function stemPoints(stems) {
  const pts = [];
  for (const [x, h] of stems) {
    pts.push({ x, y: 0 }, { x, y: h }, { x: NaN, y: NaN });
  }
  return pts;
}

const toPoints = (pairs) => pairs.map(([x, y]) => ({ x, y }));

function solidSet(pairs, color) {
  return { data: toPoints(pairs), showLine: true, stepped: 'after', fill: 'origin', backgroundColor: color, borderWidth: 0, pointRadius: 0 };
}

function linkSet(links, color) {
  return { data: linkPoints(links), showLine: true, borderColor: color, borderWidth: 2.1, pointRadius: 0 };
}

function stemSet(stems, color) {
  return { data: stemPoints(stems), showLine: true, borderColor: color, borderWidth: 1.6, pointRadius: 0 };
}

// first dataset is painted last
new Chart(document.getElementById('dendro'), {
  type: 'scatter',
  data: {
    datasets: [
      { data: [{ x: leafRange[0], y: cutoffLevel[0] }, { x: leafRange[1], y: cutoffLevel[0] }], showLine: true, borderColor: '#000', borderWidth: 5, borderDash: [25, 24], pointRadius: 0 },
      linkSet(rootLink, '#000000'),
      linkSet(blueLinks, BLUE),
      linkSet(redLinks, RED),
      stemSet(blueStems, BLUE),
      stemSet(redStems, RED),
      solidSet(blueSolidTop, BLUE),
      solidSet(redSolidTop, RED),
    ],
  },
  options: {
    responsive: false,
    animation: false,
    devicePixelRatio: 1,
    events: [],
    layout: { padding: 0 },
    plugins: {
      legend: { display: false },
      tooltip: { enabled: false },
      title: { display: true, text: 'Dendrogram Dummy samples', fullSize: false, color: '#000', padding: { top: 13, bottom: 13 }, font: { family: SERIF, size: 68, lineHeight: 1, weight: 'normal' } },
    },
    scales: {
      x: axisBase({ position: 'bottom', min: leafRange[0], max: leafRange[1], ticks: { display: false }, grid: { drawOnChartArea: false, drawTicks: false }, afterFit: s => { s.height = 133; }, title: axisTitle('ID signals', { top: 0, bottom: 26 }) }),
      x2: axisBase({ position: 'top', min: leafRange[0], max: leafRange[1], ticks: { display: false }, grid: { drawOnChartArea: false, drawTicks: false }, afterFit: s => { s.height = 12; } }),
      y: axisBase({ position: 'left', min: 0, max: 1, afterBuildTicks: fixTicks(dissimilarityTicks), afterFit: s => { s.width = 266; }, ticks: { padding: 20, color: TEXT_COLOR, font: tickFont(), autoSkip: false, maxRotation: 0, callback: v => String(v) }, title: axisTitle('Dissimilarity', { top: 55, bottom: 0 }) }),
      y2: axisBase({ position: 'right', min: 0, max: 1, afterBuildTicks: fixTicks(dissimilarityTicks), afterFit: s => { s.width = 40; }, ticks: { display: false } }),
    },
  },
  plugins: [spacedText],
});

function bubbleSet(pairs, color, radius) {
  return { data: toPoints(pairs), pointRadius: radius, pointBackgroundColor: color, pointBorderColor: '#000', pointBorderWidth: 2 };
}

function stageLines() {
  return stageLimits.map(x => ({
    data: [{ x, y: frequencyTicks[0] }, { x, y: frequencyTicks[frequencyTicks.length - 1] }],
    showLine: true, borderColor: '#555555', borderWidth: 3, pointRadius: 0,
  }));
}

function frequencyChart(id, title, yLabel, sets) {
  return new Chart(document.getElementById(id), {
    type: 'scatter',
    data: { datasets: [...stageLines(), ...sets] },
    options: {
      responsive: false,
      animation: false,
      devicePixelRatio: 1,
      events: [],
      layout: { padding: 0 },
      plugins: {
        legend: { display: false },
        tooltip: { enabled: false },
        title: { display: true, text: title, fullSize: false, color: '#000', padding: { top: 14, bottom: 12 }, font: { family: SERIF, size: 68, lineHeight: 1, weight: 'normal' } },
      },
      scales: {
        x: axisBase({ position: 'bottom', min: signalRange[0], max: signalRange[1], afterBuildTicks: fixTicks(signalTicks), afterFit: s => { s.height = 216; }, ticks: { padding: 23, color: TEXT_COLOR, font: tickFont(), autoSkip: false, maxRotation: 0, minRotation: 0, callback: v => String(v) }, title: axisTitle('ID signals', { top: 0, bottom: 23 }) }),
        x2: axisBase({ position: 'top', min: signalRange[0], max: signalRange[1], afterBuildTicks: fixTicks(signalTicks), afterFit: s => { s.height = 12; }, ticks: { display: false } }),
        y: axisBase({ position: 'left', min: 0, max: 1000, afterBuildTicks: fixTicks(frequencyTicks), afterFit: s => { s.width = 284; }, ticks: { padding: 22, color: TEXT_COLOR, font: tickFont(), autoSkip: false, maxRotation: 0, callback: v => String(v) }, title: axisTitle(yLabel, { top: 25, bottom: 0 }) }),
        y2: axisBase({ position: 'right', min: 0, max: 1000, afterBuildTicks: fixTicks(frequencyTicks), afterFit: s => { s.width = 80; }, ticks: { display: false } }),
      },
    },
    plugins: [spacedText, stageText],
  });
}

frequencyChart('peak', 'Peak frequency', 'Peak frequency [kHz]', [
  bubbleSet(peakRedQuiet, RED, QUIET_R),
  bubbleSet(peakBlueBand, BLUE, QUIET_R),
  bubbleSet(peakBlueQuiet, BLUE, QUIET_R),
  bubbleSet(peakRedMedium, RED, MEDIUM_R),
  bubbleSet(peakBlueMedium, BLUE, MEDIUM_R),
  bubbleSet(peakBlueLoud, BLUE, LOUD_R),
]);

frequencyChart('center', 'Center frequency', 'Center frequency [kHz]', [
  bubbleSet(centerRedQuiet, RED, QUIET_R),
  bubbleSet(centerBlueBand, BLUE, QUIET_R),
  bubbleSet(centerBlueQuiet, BLUE, QUIET_R),
  bubbleSet(centerRedMedium, RED, MEDIUM_R),
  bubbleSet(centerBlueMedium, BLUE, MEDIUM_R),
  bubbleSet(centerBlueLoud, BLUE, LOUD_R),
]);

// ---- legend ----
const legendColumns = [
  { label: 'Cluster 1', color: BLUE, cx: 994, cy: 2062, r: 19, tx: 1040, base: 2087, gap: 5.4 },
  { label: 'Cluster 2', color: RED, cx: 992, cy: 2166, r: 19, tx: 1040, base: 2191, gap: 5.4 },
  { label: '81-100 dB', color: '#cccccc', cx: 1539, cy: 2067, r: 52, tx: 1626, base: 2092, gap: 4.6 },
  { label: '61-80 dB', color: '#cccccc', cx: 1539, cy: 2166, r: 32, tx: 1626, base: 2191, gap: 4.6 },
  { label: '40-60 dB', color: '#cccccc', cx: 1539, cy: 2265, r: 11, tx: 1626, base: 2291, gap: 4.6 },
];
const legend = document.getElementById('legend');
for (const item of legendColumns) {
  const dot = document.createElement('div');
  dot.className = 'lg-dot';
  dot.style.cssText = `left:${item.cx - item.r - 943}px;top:${item.cy - item.r - 2003}px;width:${2 * item.r}px;height:${2 * item.r}px;background:${item.color}`;
  legend.appendChild(dot);
  const text = document.createElement('div');
  text.className = 'lg-text';
  text.textContent = item.label;
  text.style.left = (item.tx - 943) + 'px';
  text.style.top = (item.base - 57 - 2003) + 'px';
  text.style.letterSpacing = item.gap + 'px';
  legend.appendChild(text);
}
</script>
</body>
</html>
